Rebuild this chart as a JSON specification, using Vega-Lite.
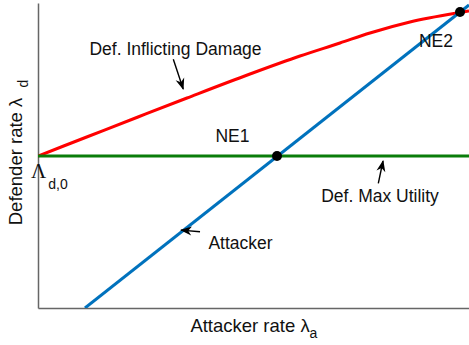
{
  "$schema": "https://vega.github.io/schema/vega-lite/v6.json",
  "width": 431,
  "height": 305,
  "autosize": {"type": "none"},
  "padding": {"left": 38, "top": 3, "right": 0, "bottom": 37},
  "background": "white",
  "config": {
    "view": {"stroke": null},
    "axis": {
      "domainColor": "#666666",
      "domainWidth": 1.5,
      "ticks": false,
      "labels": false,
      "grid": false,
      "titleFont": "Liberation Sans",
      "titleFontSize": 18.5,
      "titleFontWeight": "normal",
      "titleColor": "#111111",
      "titleBaseline": "alphabetic",
      "titleAlign": "center"
    }
  },
  "datasets": {
    "curves": [
      {"series": "damage", "x": 0, "y": 152},
      {"series": "damage", "x": 50, "y": 171.5},
      {"series": "damage", "x": 100, "y": 191},
      {"series": "damage", "x": 149, "y": 210},
      {"series": "damage", "x": 212, "y": 234},
      {"series": "damage", "x": 262, "y": 252},
      {"series": "damage", "x": 302, "y": 265},
      {"series": "damage", "x": 332, "y": 275},
      {"series": "damage", "x": 372, "y": 286},
      {"series": "damage", "x": 422, "y": 295.5},
      {"series": "damage", "x": 431, "y": 297},
      {"series": "utility", "x": 0, "y": 152},
      {"series": "utility", "x": 431, "y": 152},
      {"series": "attacker", "x": 47, "y": 0},
      {"series": "attacker", "x": 431, "y": 303}
    ],
    "equilibria": [
      {"name": "NE1", "x": 239, "y": 152},
      {"name": "NE2", "x": 422, "y": 296}
    ],
    "labels": [
      {"text": "Def. Inflicting Damage", "x": 137.5, "y": 253},
      {"text": "NE2", "x": 398, "y": 261},
      {"text": "NE1", "x": 194.5, "y": 166},
      {"text": "Def. Max Utility", "x": 342, "y": 106},
      {"text": "Attacker", "x": 202.5, "y": 59}
    ],
    "arrows": [
      {"id": "damage", "x": 135.3, "y": 248.7, "x2": 145.2, "y2": 219},
      {"id": "utility", "x": 340.3, "y": 124.7, "x2": 345, "y2": 147},
      {"id": "attacker", "x": 162, "y": 76.3, "x2": 143, "y2": 77.9}
    ],
    "heads": [
      {"id": "damage", "x": 145.5, "y": 218},
      {"id": "utility", "x": 345.3, "y": 148},
      {"id": "attacker", "x": 142, "y": 78}
    ]
  },
  "layer": [
    {
      "data": {"name": "curves"},
      "mark": {"type": "line", "strokeWidth": 3, "interpolate": "monotone", "clip": true},
      "encoding": {
        "x": {"field": "x", "type": "quantitative", "scale": {"domain": [0, 431], "nice": false, "zero": false},
              "axis": {"title": "Attacker rate λ", "titleX": 211.5, "titleY": 23}},
        "y": {"field": "y", "type": "quantitative", "scale": {"domain": [0, 305], "nice": false, "zero": false},
              "axis": {"title": "Defender rate λ", "titleX": -17, "titleY": 158, "titleAngle": 270}},
        "color": {"field": "series", "type": "nominal",
                  "scale": {"domain": ["damage", "utility", "attacker"], "range": ["#ff0000", "#0a7d0a", "#0072bd"]},
                  "legend": null}
      }
    },
    {
      "data": {"name": "equilibria"},
      "mark": {"type": "point", "filled": true, "shape": "circle", "size": 100, "color": "#000000", "opacity": 1},
      "encoding": {
        "x": {"field": "x", "type": "quantitative"},
        "y": {"field": "y", "type": "quantitative"}
      }
    },
    {
      "data": {"name": "arrows"},
      "mark": {"type": "rule", "color": "#000000", "strokeWidth": 1.4},
      "encoding": {
        "x": {"field": "x", "type": "quantitative"},
        "y": {"field": "y", "type": "quantitative"},
        "x2": {"field": "x2"},
        "y2": {"field": "y2"}
      }
    },
    {
      "data": {"name": "heads"},
      "transform": [{"filter": "datum.id === 'damage'"}],
      "mark": {"type": "point", "filled": true, "opacity": 1, "color": "#000000", "size": 225, "angle": 162,
               "shape": "M0,0 L0.6,1.55 L0,1.1 L-0.6,1.55 Z"},
      "encoding": {
        "x": {"field": "x", "type": "quantitative"},
        "y": {"field": "y", "type": "quantitative"}
      }
    },
    {
      "data": {"name": "heads"},
      "transform": [{"filter": "datum.id === 'utility'"}],
      "mark": {"type": "point", "filled": true, "opacity": 1, "color": "#000000", "size": 225, "angle": 12,
               "shape": "M0,0 L0.6,1.55 L0,1.1 L-0.6,1.55 Z"},
      "encoding": {
        "x": {"field": "x", "type": "quantitative"},
        "y": {"field": "y", "type": "quantitative"}
      }
    },
    {
      "data": {"name": "heads"},
      "transform": [{"filter": "datum.id === 'attacker'"}],
      "mark": {"type": "point", "filled": true, "opacity": 1, "color": "#000000", "size": 225, "angle": -85,
               "shape": "M0,0 L0.6,1.55 L0,1.1 L-0.6,1.55 Z"},
      "encoding": {
        "x": {"field": "x", "type": "quantitative"},
        "y": {"field": "y", "type": "quantitative"}
      }
    },
    {
      "data": {"name": "labels"},
      "mark": {"type": "text", "font": "Liberation Sans", "fontSize": 17.5, "align": "center", "baseline": "alphabetic", "color": "#111111"},
      "encoding": {
        "x": {"field": "x", "type": "quantitative"},
        "y": {"field": "y", "type": "quantitative"},
        "text": {"field": "text"}
      }
    },
    {
      "data": {"values": [{"text": "Λ", "x": 0.5, "y": 130}]},
      "mark": {"type": "text", "font": "Liberation Serif", "fontSize": 21, "align": "center", "baseline": "alphabetic", "color": "#111111"},
      "encoding": {
        "x": {"field": "x", "type": "quantitative"},
        "y": {"field": "y", "type": "quantitative"},
        "text": {"field": "text"}
      }
    },
    {
      "data": {"values": [
        {"text": "d,0", "x": 20, "y": 119},
        {"text": "a", "x": 275.5, "y": -29.7}
      ]},
      "mark": {"type": "text", "font": "Liberation Sans", "fontSize": 14, "align": "center", "baseline": "alphabetic", "color": "#111111"},
      "encoding": {
        "x": {"field": "x", "type": "quantitative"},
        "y": {"field": "y", "type": "quantitative"},
        "text": {"field": "text"}
      }
    },
    {
      "data": {"values": [{"text": "d", "x": -10, "y": 224.5}]},
      "mark": {"type": "text", "font": "Liberation Sans", "fontSize": 14, "align": "center", "baseline": "alphabetic", "angle": 270, "color": "#111111"},
      "encoding": {
        "x": {"field": "x", "type": "quantitative"},
        "y": {"field": "y", "type": "quantitative"},
        "text": {"field": "text"}
      }
    }
  ]
}
